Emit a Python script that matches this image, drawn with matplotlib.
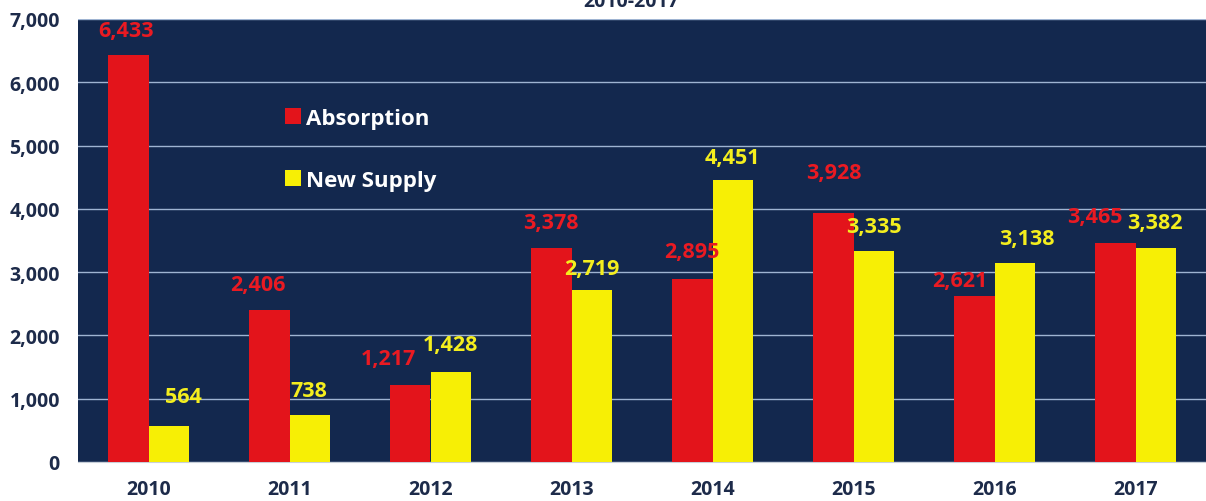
import matplotlib.pyplot as plt
import numpy as np

# Data
years = ["2010", "2011", "2012", "2013", "2014", "2015", "2016", "2017"]
absorption = [6433, 2406, 1217, 3378, 2895, 3928, 2621, 3465]
new_supply = [564, 738, 1428, 2719, 4451, 3335, 3138, 3382]

# label nudges in pixels (x, y) so they sit like in the original
abs_nudge = [(-2, 24), (-12, 25), (-22, 26), (-1, 26), (-1, 27), (0, 41), (-15, 16), (-21, 26)]
sup_nudge = [(15, 30), (-1, 25), (0, 27), (0, 21), (0, 23), (0, 24), (12, 25), (-1, 25)]

navy_bg = "#13284e"
red = "#e3141b"
yellow = "#f7ef05"
text_navy = "#1d2b4a"

plt.rcParams['font.family'] = ['Open Sans', 'DejaVu Sans']

fig = plt.figure(figsize=(12.06, 5.02), dpi=100)
ax = fig.add_axes([78 / 1206, 39 / 502, 1128 / 1206, 443 / 502])
ax.set_facecolor(navy_bg)

x = np.arange(len(years))
w = 0.285
ax.bar(x - w / 2, absorption, w, color=red, label="Absorption", zorder=3)
ax.bar(x + w / 2, new_supply, w, color=yellow, label="New Supply", zorder=3)

px = 72 / 100  # pixels -> points
for i in range(len(years)):
    ax.annotate(f"{absorption[i]:,}", (x[i] - w / 2, absorption[i]),
                xytext=(abs_nudge[i][0] * px, abs_nudge[i][1] * px), textcoords="offset points",
                ha="center", va="center", color="#ea1a22", fontsize=15.5, fontweight="bold", zorder=4)
    ax.annotate(f"{new_supply[i]:,}", (x[i] + w / 2, new_supply[i]),
                xytext=(sup_nudge[i][0] * px, sup_nudge[i][1] * px), textcoords="offset points",
                ha="center", va="center", color="#f4ee1e", fontsize=15.5, fontweight="bold", zorder=4)

ax.set_xlim(-0.5, len(years) - 0.5)
ax.set_ylim(0, 7000)
ax.set_yticks(range(0, 7001, 1000))
ax.set_yticklabels([f"{v:,}" for v in range(0, 7001, 1000)])
ax.set_xticks(x)
ax.set_xticklabels(years)
ax.yaxis.grid(True, color="#9fb4d2", linewidth=1.0, zorder=1)
ax.set_axisbelow(True)
ax.tick_params(axis="both", length=0, labelsize=14, labelcolor=text_navy)
ax.tick_params(axis="y", pad=13)
ax.tick_params(axis="x", pad=12)
for lab in ax.get_xticklabels() + ax.get_yticklabels():
    lab.set_fontweight("bold")
for side in ["left", "right", "top"]:
    ax.spines[side].set_visible(False)
ax.spines["bottom"].set_color("#c8cfd8")

leg = ax.legend(loc="upper left", bbox_to_anchor=(0.166, 0.845), frameon=False,
                handlelength=0.7, handleheight=0.7, handletextpad=0.25, labelspacing=1.85,
                prop={"size": 16, "weight": "bold"})
for t in leg.get_texts():
    t.set_color("white")

fig.text(631 / 1206, 1 - 7 / 502, "2010-2017", ha="center", va="baseline",
         fontsize=14, fontweight="bold", color=text_navy)

fig.savefig("out.png", dpi=100)
